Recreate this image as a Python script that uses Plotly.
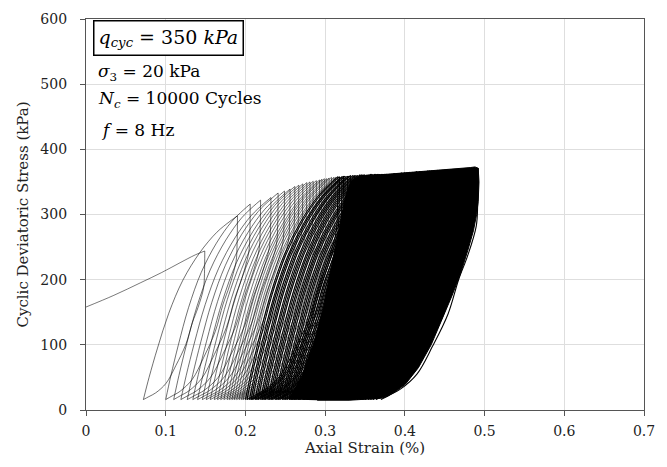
import plotly.graph_objects as go

# ---- monotonic first loading (strain %, deviatoric stress kPa) ----
first_load_strain = [0.0, 0.035, 0.068, 0.095, 0.118, 0.137, 0.149]
first_load_stress = [158, 176, 195, 211, 226, 238, 244]

# ---- cyclic loops: trough strain, peak strain, peak stress ----
loop_trough_strain = [
    0.072, 0.100, 0.110, 0.119, 0.127, 0.134, 0.140, 0.146, 0.151, 0.156,
    0.161, 0.165, 0.169, 0.173, 0.177, 0.180, 0.183, 0.186, 0.189, 0.192,
    0.195, 0.197, 0.200, 0.202, 0.205, 0.207, 0.209, 0.212, 0.214, 0.216,
    0.219, 0.221, 0.223, 0.225, 0.228, 0.230, 0.232, 0.234, 0.237, 0.239,
    0.241, 0.243, 0.246, 0.248, 0.250, 0.252, 0.255, 0.257, 0.259, 0.261,
    0.263, 0.266, 0.268, 0.272, 0.274, 0.277, 0.281, 0.283, 0.286, 0.290,
    0.292, 0.295, 0.299, 0.301, 0.304, 0.308, 0.310, 0.313, 0.317, 0.319,
    0.322, 0.326, 0.328, 0.331, 0.335, 0.337, 0.340, 0.344, 0.347, 0.350,
    0.354, 0.357, 0.360, 0.364,
]
loop_peak_strain = [
    0.190, 0.206, 0.219, 0.232, 0.241, 0.249, 0.256, 0.262, 0.267, 0.272,
    0.277, 0.281, 0.285, 0.289, 0.293, 0.296, 0.299, 0.302, 0.305, 0.308,
    0.311, 0.313, 0.316, 0.318, 0.321, 0.323, 0.325, 0.328, 0.330, 0.332,
    0.335, 0.337, 0.339, 0.341, 0.344, 0.346, 0.348, 0.350, 0.353, 0.355,
    0.357, 0.359, 0.362, 0.364, 0.366, 0.368, 0.371, 0.373, 0.375, 0.377,
    0.381, 0.384, 0.387, 0.391, 0.393, 0.396, 0.400, 0.403, 0.406, 0.410,
    0.412, 0.415, 0.419, 0.422, 0.425, 0.429, 0.431, 0.434, 0.438, 0.441,
    0.444, 0.448, 0.450, 0.454, 0.458, 0.460, 0.464, 0.468, 0.471, 0.475,
    0.479, 0.483, 0.487, 0.492,
]
loop_peak_stress = [
    298, 316, 322, 326, 333, 336, 339, 343, 345, 347,
    349, 350, 351, 352, 353, 354, 355, 355, 356, 357,
    357, 357, 358, 358, 358, 359, 359, 359, 359, 360,
    360, 360, 360, 360, 361, 361, 361, 361, 361, 361,
    362, 362, 362, 362, 362, 362, 362, 362, 362, 362,
    362, 362, 363, 363, 363, 364, 364, 364, 365, 365,
    365, 366, 366, 366, 366, 367, 367, 367, 367, 368,
    368, 368, 368, 369, 369, 369, 369, 370, 370, 370,
    371, 371, 372, 371,
]
final_trough_strain = 0.370
trough_stress = 16
early_loop_count = 22  # sparse early cycles drawn with a finer pen

# normalised branch shapes (fraction of strain span, fraction of stress span)
reload_u = [0.0, 0.06, 0.15, 0.27, 0.42, 0.60, 0.78, 0.92, 1.0]
reload_v = [0.0, 0.12, 0.28, 0.47, 0.65, 0.80, 0.91, 0.97, 1.0]
unload_u = [1.0, 0.995, 0.98, 0.89, 0.80, 0.69, 0.53, 0.37, 0.20, 0.09, 0.0]
unload_v = [1.0, 0.85, 0.75, 0.62, 0.52, 0.37, 0.23, 0.11, 0.045, 0.02, 0.0]

# outline of the saturated band of late cycles
core_strain = [0.255, 0.270, 0.285, 0.298, 0.308, 0.318, 0.326, 0.333, 0.345,
               0.380, 0.420, 0.450, 0.470, 0.482, 0.488, 0.492,
               0.493, 0.492, 0.490, 0.486, 0.479, 0.470, 0.459, 0.447, 0.433,
               0.417, 0.401, 0.388, 0.378, 0.370, 0.330, 0.290]
core_stress = [16, 50, 100, 160, 220, 280, 330, 352, 359,
               362, 366, 368, 370, 372, 373, 371,
               350, 320, 300, 275, 245, 210, 175, 140, 100,
               65, 40, 28, 21, 18, 15, 15]


def branch(us, vs, e_lo, e_hi, q_lo, q_hi):
    xs = [e_lo + u * (e_hi - e_lo) for u in us]
    ys = [q_lo + v * (q_hi - q_lo) for v in vs]
    return xs, ys


troughs = loop_trough_strain + [final_trough_strain]
ex, ey = [], []   # early loops
dx, dy = [], []   # dense later loops

# unloading from the first monotonic peak
ux, uy = branch(unload_u, unload_v, troughs[0], first_load_strain[-1],
                trough_stress, first_load_stress[-1])
ex += ux + [None]
ey += uy + [None]

for i in range(len(loop_trough_strain)):
    rx, ry = branch(reload_u, reload_v, troughs[i], loop_peak_strain[i],
                    trough_stress, loop_peak_stress[i])
    ux, uy = branch(unload_u, unload_v, troughs[i + 1], loop_peak_strain[i],
                    trough_stress, loop_peak_stress[i])
    tx, ty = (ex, ey) if i < early_loop_count else (dx, dy)
    tx += rx + [None] + ux + [None]
    ty += ry + [None] + uy + [None]

fig = go.Figure()

fig.add_trace(go.Scatter(
    x=core_strain, y=core_stress, mode="lines", fill="toself",
    fillcolor="black", line=dict(color="black", width=1),
    hoverinfo="skip", showlegend=False))

fig.add_trace(go.Scatter(
    x=dx, y=dy, mode="lines",
    line=dict(color="black", width=1.1, shape="spline"),
    hoverinfo="skip", showlegend=False))

fig.add_trace(go.Scatter(
    x=ex, y=ey, mode="lines",
    line=dict(color="rgba(0,0,0,0.75)", width=0.75, shape="spline"),
    hoverinfo="skip", showlegend=False))

fig.add_trace(go.Scatter(
    x=first_load_strain, y=first_load_stress, mode="lines",
    line=dict(color="rgba(0,0,0,0.7)", width=0.75, shape="spline"),
    hoverinfo="skip", showlegend=False))

serif = "DejaVu Serif"
axis_common = dict(
    showgrid=True, gridcolor="#dedede", gridwidth=1,
    showline=True, linecolor="#555555", linewidth=1.3, mirror=True,
    ticks="outside", ticklen=5, tickcolor="#555555", tickwidth=1.2,
    zeroline=False, tickfont=dict(family=serif, size=14, color="#222"),
)

fig.update_layout(
    width=667, height=467,
    margin=dict(l=86, r=23, t=11, b=57),
    plot_bgcolor="white", paper_bgcolor="white",
    xaxis=dict(range=[0, 0.7], dtick=0.1, tickformat="~g", ticklabelstandoff=3,
               title=dict(text="Axial Strain (%)", standoff=3,
                          font=dict(family=serif, size=15, color="#222")),
               **axis_common),
    yaxis=dict(range=[0, 600], dtick=100, ticklabelstandoff=10,
               title=dict(text="Cyclic Deviatoric Stress (kPa)", standoff=8,
                          font=dict(family=serif, size=15, color="#222")),
               **axis_common),
)

ann_font = dict(family=serif, size=17, color="black")
fig.add_annotation(
    xref="paper", yref="paper", x=0.0125, y=0.951, xanchor="left", yanchor="middle",
    text="<i>q</i><sub><i>cyc</i></sub> = 350 <i>kPa</i>", showarrow=False,
    font=dict(family=serif, size=19, color="black"),
    bordercolor="black", borderwidth=1.5, borderpad=4, bgcolor="white")
fig.add_annotation(
    xref="paper", yref="paper", x=0.018, y=0.862, xanchor="left", yanchor="middle",
    text="<i>σ</i><sub>3</sub> = 20 kPa", showarrow=False, font=ann_font)
fig.add_annotation(
    xref="paper", yref="paper", x=0.018, y=0.795, xanchor="left", yanchor="middle",
    text="<i>N</i><sub><i>c</i></sub> = 10000 Cycles", showarrow=False, font=ann_font)
fig.add_annotation(
    xref="paper", yref="paper", x=0.024, y=0.717, xanchor="left", yanchor="middle",
    text="<i>f</i> = 8 Hz", showarrow=False, font=ann_font)

fig.write_html("out.html")
